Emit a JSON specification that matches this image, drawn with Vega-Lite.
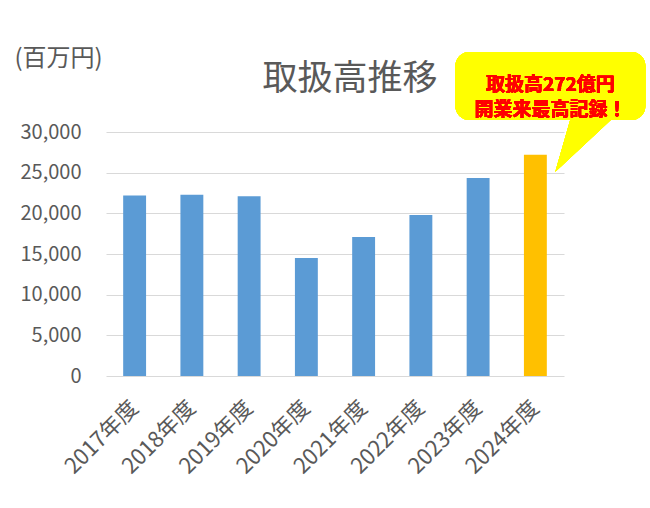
{
  "$schema": "https://vega.github.io/schema/vega-lite/v6.json",
  "autosize": {"type": "none"},
  "width": 458,
  "height": 244,
  "padding": {"left": 106, "top": 132, "right": 86, "bottom": 132},
  "background": "white",
  "config": {
    "view": {"stroke": null},
    "font": "Noto Sans CJK JP"
  },
  "title": {
    "text": "取扱高推移",
    "anchor": "middle",
    "dx": 15,
    "offset": -51,
    "fontSize": 35,
    "fontWeight": "normal",
    "color": "#595959",
    "font": "Noto Sans CJK JP"
  },
  "data": {
    "values": [
      {"year": "2017年度", "value": 22200},
      {"year": "2018年度", "value": 22300},
      {"year": "2019年度", "value": 22100},
      {"year": "2020年度", "value": 14500},
      {"year": "2021年度", "value": 17100},
      {"year": "2022年度", "value": 19800},
      {"year": "2023年度", "value": 24350},
      {"year": "2024年度", "value": 27200}
    ]
  },
  "layer": [
    {
      "mark": {"type": "bar"},
      "encoding": {
        "x": {
          "field": "year",
          "type": "nominal",
          "sort": null,
          "scale": {"paddingInner": 0.6, "paddingOuter": 0.3},
          "axis": {
            "title": null,
            "domain": false,
            "ticks": false,
            "labelAngle": -45,
            "labelAlign": "right",
            "labelBaseline": "middle",
            "labelPadding": 28,
            "labelFontSize": 22,
            "labelColor": "#595959",
            "labelFont": "Noto Sans CJK JP"
          }
        },
        "y": {
          "field": "value",
          "type": "quantitative",
          "scale": {"domain": [0, 30000], "nice": false},
          "axis": {
            "values": [0, 5000, 10000, 15000, 20000, 25000, 30000],
            "format": ",d",
            "title": "(百万円)",
            "titleAngle": 0,
            "titleX": -92,
            "titleY": -74,
            "titleAlign": "left",
            "titleBaseline": "middle",
            "titleFontSize": 24,
            "titleFontWeight": "normal",
            "titleColor": "#595959",
            "titleFont": "Noto Sans CJK JP",
            "domain": false,
            "ticks": false,
            "labelPadding": 25,
            "labelFontSize": 20,
            "labelColor": "#595959",
            "labelFont": "Noto Sans CJK JP",
            "gridColor": "#d9d9d9",
            "gridWidth": 1
          }
        },
        "color": {
          "condition": {"test": "datum.year === '2024年度'", "value": "#ffc000"},
          "value": "#5b9bd5"
        }
      }
    },
    {
      "mark": {"type": "point", "filled": true, "opacity": 1, "size": 4096, "shape": "M-0.45,-1L0.97,-1L-0.97,0.81Z", "color": "#ffff00", "strokeWidth": 0, "xOffset": 51},
      "encoding": {
        "x": {"datum": "2024年度"},
        "y": {"datum": 28300}
      }
    },
    {
      "mark": {"type": "bar", "width": 190, "cornerRadius": 14, "color": "#ffff00", "xOffset": 15},
      "encoding": {
        "x": {"datum": "2024年度"},
        "y": {"datum": 39840},
        "y2": {"datum": 31475}
      }
    },
    {
      "mark": {"type": "text", "fontSize": 19, "fontWeight": "bold", "color": "#ff0000", "align": "center", "baseline": "middle", "lineHeight": 25, "xOffset": 15, "font": "Noto Sans CJK JP"},
      "encoding": {
        "x": {"datum": "2024年度"},
        "y": {"datum": 35790},
        "text": {"value": ["取扱高272億円", "開業来最高記録！"]}
      }
    }
  ]
}
